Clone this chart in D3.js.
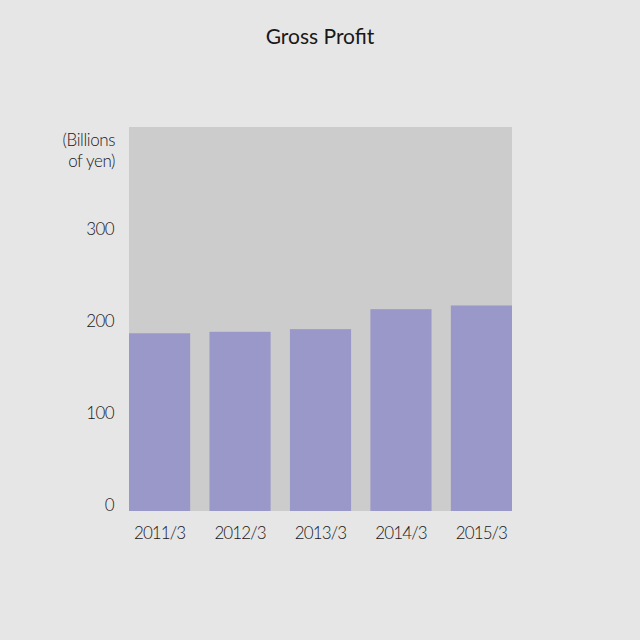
<!DOCTYPE html>
<html>
<head>
<meta charset="utf-8">
<script src="https://cdn.jsdelivr.net/npm/d3@7"></script>
<style>
  body { margin: 0; background: #e6e6e6; }
  svg text { font-family: Lato, "DejaVu Sans", sans-serif; fill: #1a1718; }
</style>
</head>
<body>
<svg id="chart"></svg>
<script>
const categories = ["2011/3", "2012/3", "2013/3", "2014/3", "2015/3"];
const grossProfit = [193, 194.6, 197.5, 219.2, 223.2];
const yTicks = [0, 100, 200, 300];
const unitLines = ["(Billions", "of yen)"];

const width = 640, height = 640;
const margin = {top: 127, right: 128, bottom: 129, left: 129};

const svg = d3.select("#chart")
    .attr("width", width)
    .attr("height", height);

svg.append("rect")
    .attr("width", width)
    .attr("height", height)
    .attr("fill", "#e6e6e6");

const x = d3.scaleBand()
    .domain(categories)
    .range([margin.left, width - margin.right])
    .paddingInner(0.24)
    .paddingOuter(0);

const y = d3.scaleLinear()
    .domain([0, 417])
    .range([height - margin.bottom, margin.top]);

// plot background
svg.append("rect")
    .attr("x", margin.left)
    .attr("y", margin.top)
    .attr("width", width - margin.left - margin.right)
    .attr("height", height - margin.top - margin.bottom)
    .attr("fill", "#cccccc");

svg.append("g")
    .selectAll("rect")
    .data(grossProfit)
    .join("rect")
    .attr("x", (d, i) => x(categories[i]))
    .attr("y", d => y(d))
    .attr("width", x.bandwidth())
    .attr("height", d => y(0) - y(d))
    .attr("fill", "#9a98c9");

// y axis labels (baseline sits on the value)
svg.append("g")
    .selectAll("text")
    .data(yTicks)
    .join("text")
    .attr("x", 114)
    .attr("y", d => y(d))
    .attr("text-anchor", "end")
    .style("font-size", "17px")
    .style("font-weight", 300)
    .style("letter-spacing", "-0.6px")
    .text(d => d);

svg.append("g")
    .selectAll("text")
    .data(unitLines)
    .join("text")
    .attr("x", 115)
    .attr("y", (d, i) => 146 + i * 21)
    .attr("text-anchor", "end")
    .style("font-size", "17px")
    .style("font-weight", 300)
    .style("letter-spacing", "-0.4px")
    .text(d => d);

// x axis labels
svg.append("g")
    .selectAll("text")
    .data(categories)
    .join("text")
    .attr("x", d => x(d) + x.bandwidth() / 2)
    .attr("y", 539)
    .attr("text-anchor", "middle")
    .style("font-size", "17px")
    .style("font-weight", 300)
    .style("letter-spacing", "-0.9px")
    .text(d => d);

svg.append("text")
    .attr("x", width / 2)
    .attr("y", 44)
    .attr("text-anchor", "middle")
    .style("font-size", "21px")
    .style("font-weight", 400)
    .text("Gross Profit");
</script>
</body>
</html>
